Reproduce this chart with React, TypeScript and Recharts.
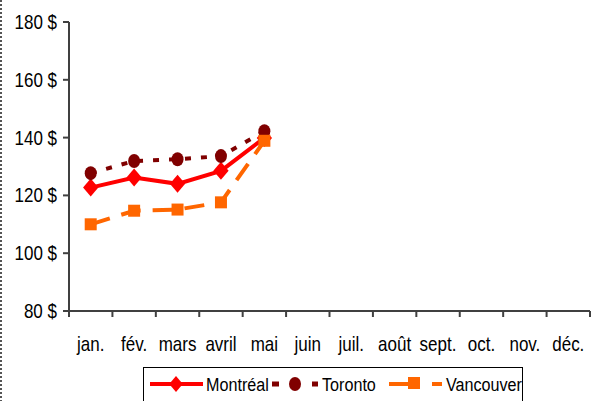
import React from 'react';
import { LineChart, Line, XAxis, YAxis, Legend } from 'recharts';

const months = ['jan.', 'fév.', 'mars', 'avril', 'mai', 'juin', 'juil.', 'août', 'sept.', 'oct.', 'nov.', 'déc.'];
const montreal = [122.7, 126.2, 124, 128.5, 139.9, null, null, null, null, null, null, null];
const toronto = [127.7, 131.9, 132.5, 133.6, 142.2, null, null, null, null, null, null, null];
const vancouver = [110, 114.7, 115.1, 117.6, 138.9, null, null, null, null, null, null, null];
const yTicks = [80, 100, 120, 140, 160, 180];

const data = months.map((m, i) => ({
  month: m,
  pos: i + 0.5,
  montreal: montreal[i],
  toronto: toronto[i],
  vancouver: vancouver[i],
}));

const FONT = '"Liberation Sans", Arial, sans-serif';

// condensed text (Arial Narrow look)
const Narrow = ({ x, y, anchor = 'start', size = 20, children }: any) => (
  <text
    transform={`translate(${x},${y}) scale(0.85,1)`}
    textAnchor={anchor}
    fontFamily={FONT}
    fontSize={size}
    fill="#000"
  >
    {children}
  </text>
);

const YTick = ({ x, y, payload }: any) => (
  <Narrow x={x} y={y + 7} anchor="end">{`${payload.value} $`}</Narrow>
);
const XTick = ({ x, y, payload }: any) => (
  <Narrow x={x} y={y + 26} anchor="middle">{months[Math.floor(payload.value)]}</Narrow>
);

const Diamond = ({ cx, cy, fill, r = 8 }: any) =>
  cx == null || cy == null ? null : (
    <path d={`M${cx},${cy - r} L${cx + r * 0.85},${cy} L${cx},${cy + r} L${cx - r * 0.85},${cy} Z`} fill={fill} />
  );
const Oval = ({ cx, cy, fill }: any) =>
  cx == null || cy == null ? null : <ellipse cx={cx} cy={cy} rx={6} ry={7} fill={fill} />;
const Square = ({ cx, cy, fill, s = 6 }: any) =>
  cx == null || cy == null ? null : <rect x={cx - s} y={cy - s} width={s * 2} height={s * 2} fill={fill} />;

const LegendBox = () => (
  <svg width={380} height={40} style={{ display: 'block' }}>
    <rect x={0.5} y={0.5} width={379} height={45} fill="#fff" stroke="#000" />
    <line x1={7} y1={17} x2={60} y2={17} stroke="#FF0000" strokeWidth={4} />
    <Diamond cx={33} cy={17} r={8} fill="#FF0000" />
    <Narrow x={63} y={24} size={19}>Montréal</Narrow>
    <line x1={129} y1={17} x2={175} y2={17} stroke="#800000" strokeWidth={5} strokeDasharray="7 33 6" />
    <Oval cx={152} cy={17} fill="#800000" />
    <Narrow x={179} y={24} size={19}>Toronto</Narrow>
    <line x1={246} y1={17} x2={299} y2={17} stroke="#FF6600" strokeWidth={4} strokeDasharray="31 12 10" />
    <Square cx={271} cy={16} s={6} fill="#FF6600" />
    <Narrow x={303} y={24} size={19}>Vancouver</Narrow>
  </svg>
);

export default function App() {
  return (
    <div style={{ position: 'absolute', left: 0, top: 0, width: 596, height: 401, background: '#fff', overflow: 'hidden' }}>
      <div
        style={{
          position: 'absolute', left: 0, top: 0, width: 2, height: 401,
          background: 'repeating-linear-gradient(to bottom, #555 0 2px, transparent 2px 4px)',
        }}
      />
      <LineChart width={596} height={401} data={data} margin={{ top: 22, right: 6, bottom: 52, left: 0 }}>
        <XAxis
          xAxisId="a"
          dataKey="pos"
          type="number"
          domain={[0, 12]}
          ticks={[0, 1, 2, 3, 4, 5, 6, 7, 8, 9, 10, 11, 12]}
          tickFormatter={() => ''}
          height={8}
          stroke="#404040"
          strokeWidth={2}
          tickSize={6}
        />
        <XAxis
          xAxisId="b"
          dataKey="pos"
          type="number"
          domain={[0, 12]}
          ticks={months.map((_, i) => i + 0.5)}
          axisLine={false}
          tickLine={false}
          height={30}
          tickMargin={0}
          tick={<XTick />}
        />
        <YAxis
          domain={[80, 180]}
          ticks={yTicks}
          width={69}
          stroke="#404040"
          strokeWidth={2}
          tickSize={6}
          tickMargin={6}
          tick={<YTick />}
        />
        <Line
          xAxisId="a"
          dataKey="montreal"
          name="Montréal"
          stroke="#FF0000"
          strokeWidth={4}
          dot={<Diamond fill="#FF0000" r={9} />}
          isAnimationActive={false}
        />
        <Line
          xAxisId="a"
          dataKey="toronto"
          name="Toronto"
          stroke="#800000"
          strokeWidth={4}
          strokeDasharray="6 10"
          dot={<Oval fill="#800000" />}
          isAnimationActive={false}
        />
        <Line
          xAxisId="a"
          dataKey="vancouver"
          name="Vancouver"
          stroke="#FF6600"
          strokeWidth={4}
          strokeDasharray="20 12"
          dot={<Square fill="#FF6600" s={6} />}
          isAnimationActive={false}
        />
        <Legend
          layout="horizontal"
          verticalAlign="middle"
          align="center"
          content={() => <LegendBox />}
          wrapperStyle={{ left: 143, top: 367, width: 380, height: 40 }}
        />
      </LineChart>
    </div>
  );
}
